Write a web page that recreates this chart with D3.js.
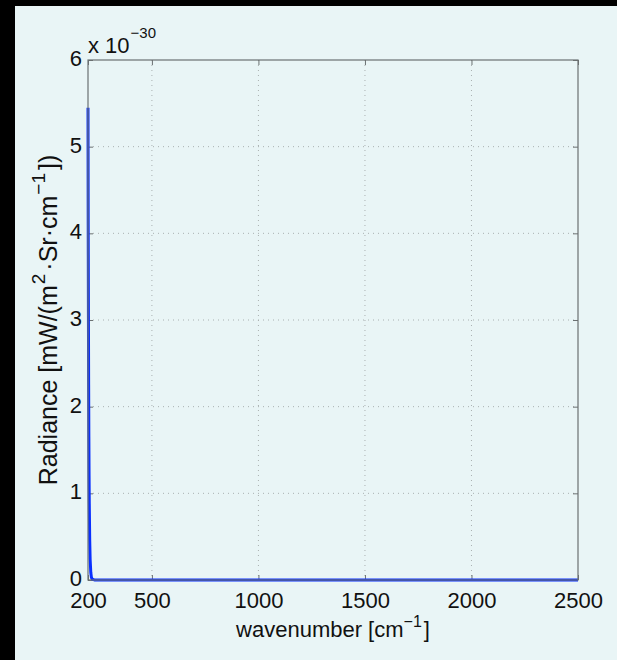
<!DOCTYPE html>
<html>
<head>
<meta charset="utf-8">
<script src="https://cdn.jsdelivr.net/npm/d3@7"></script>
<style>
  body { margin: 0; background: #000; }
  svg { display: block; }
  text { font-family: "Liberation Sans", Arial, sans-serif; fill: #111; }
</style>
</head>
<body>
<svg id="chart" width="617" height="660"></svg>
<script>
// wavenumber [cm^-1] and radiance (x 1e-30 mW/(m2.Sr.cm-1))
const wavenumber = [200, 201, 202, 203, 204, 205, 206, 208, 210, 213, 216, 220, 230, 300, 500, 1000, 1500, 2000, 2500];
const radiance   = [5.45, 4.1, 3.05, 2.25, 1.65, 1.2, 0.88, 0.46, 0.24, 0.09, 0.03, 0.008, 0.001, 0, 0, 0, 0, 0, 0];
const xTicks = [200, 500, 1000, 1500, 2000, 2500];
const yTicks = [0, 1, 2, 3, 4, 5, 6];

const svg = d3.select("#chart");

// light panel (black strip left and top)
svg.append("rect")
    .attr("x", 15).attr("y", 6)
    .attr("width", 617 - 15).attr("height", 660 - 6)
    .attr("fill", "#e9f5f6");

const margin = { top: 60, right: 39, bottom: 80, left: 88 },
  width = 617 - margin.left - margin.right,
  height = 660 - margin.top - margin.bottom;

const g = svg.append("g")
    .attr("transform", "translate(" + margin.left + "," + margin.top + ")");

const x = d3.scaleLinear().domain([200, 2500]).range([0, width]);
const y = d3.scaleLinear().domain([0, 6]).range([height, 0]);

// dotted grid
g.selectAll(".gx")
  .data(xTicks.slice(1, -1))
  .enter().append("line")
    .attr("x1", d => x(d)).attr("x2", d => x(d))
    .attr("y1", 0).attr("y2", height)
    .attr("stroke", "#a9b0b0").attr("stroke-width", 1)
    .attr("stroke-dasharray", "1,4");

g.selectAll(".gy")
  .data(yTicks.slice(1, -1))
  .enter().append("line")
    .attr("x1", 0).attr("x2", width)
    .attr("y1", d => y(d)).attr("y2", d => y(d))
    .attr("stroke", "#a9b0b0").attr("stroke-width", 1)
    .attr("stroke-dasharray", "1,4");

// axes, ticks inward on all four sides
const axisColor = "#6b7172";
function styleAxis(sel) {
  sel.select(".domain").remove();
  sel.selectAll(".tick line").attr("stroke", axisColor);
  sel.selectAll(".tick text")
    .style("font-size", "22px")
    .attr("fill", "#111");
}

g.append("g")
    .attr("transform", "translate(0," + height + ")")
    .call(d3.axisBottom(x).tickValues(xTicks).tickSize(-5).tickPadding(12).tickFormat(d3.format("d")))
    .call(styleAxis);

g.append("g")
    .call(d3.axisTop(x).tickValues(xTicks).tickSize(-5).tickFormat(""))
    .call(styleAxis);

g.append("g")
    .call(d3.axisLeft(y).tickValues(yTicks).tickSize(-5).tickPadding(6).tickFormat(d3.format("d")))
    .call(styleAxis)
    .selectAll(".tick text").attr("dy", "0.25em");

g.append("g")
    .attr("transform", "translate(" + width + ",0)")
    .call(d3.axisRight(y).tickValues(yTicks).tickSize(-5).tickFormat(""))
    .call(styleAxis);

// the curve
const line = d3.line()
    .x((d, i) => x(wavenumber[i]))
    .y(d => y(d));

g.append("path")
    .datum(radiance)
    .attr("d", line)
    .attr("fill", "none")
    .attr("stroke", "#0a30ff")
    .attr("stroke-width", 3)
    .attr("stroke-linejoin", "round");

// box
g.append("rect")
    .attr("width", width).attr("height", height)
    .attr("fill", "none")
    .attr("stroke", axisColor).attr("stroke-width", 1.2);

// exponent label
const expo = g.append("text")
    .attr("x", 0).attr("y", -7)
    .style("font-size", "22px");
expo.append("tspan").text("x 10");
expo.append("tspan").attr("dx", 1).attr("dy", -15).style("font-size", "15px").text("\u221230");

// x axis label
const xl = g.append("text")
    .attr("x", width / 2).attr("y", height + 57)
    .attr("text-anchor", "middle")
    .style("font-size", "22px");
xl.append("tspan").text("wavenumber [cm");
xl.append("tspan").attr("dy", -10).style("font-size", "16px").text("\u22121");
xl.append("tspan").attr("dx", 2).attr("dy", 10).text("]");

// y axis label
const yl = g.append("text")
    .attr("transform", "translate(-31," + (height / 2) + ") rotate(-90)")
    .attr("text-anchor", "middle")
    .style("font-size", "25px");
yl.append("tspan").text("Radiance [mW/(m");
yl.append("tspan").attr("dx", 1).attr("dy", -12).style("font-size", "19px").text("2");
yl.append("tspan").attr("dx", 3).attr("dy", 12).text("\u00b7Sr\u00b7cm");
yl.append("tspan").attr("dx", 1).attr("dy", -12).style("font-size", "19px").text("\u22121");
yl.append("tspan").attr("dx", 3).attr("dy", 12).text("])");
</script>
</body>
</html>
